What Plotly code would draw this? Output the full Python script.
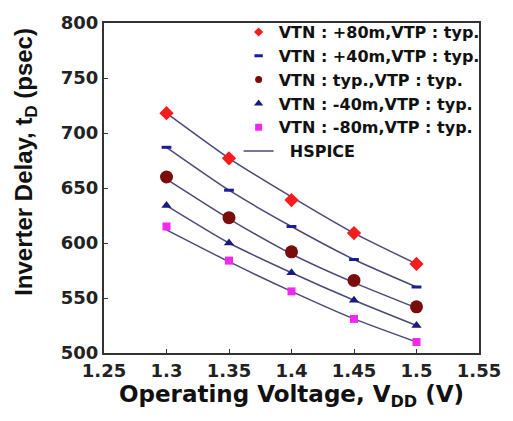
import plotly.graph_objects as go

vdd = [1.3, 1.35, 1.4, 1.45, 1.5]
names = ["VTN : +80m,VTP : typ.", "VTN : +40m,VTP : typ.", "VTN : typ.,VTP : typ.",
         "VTN : -40m,VTP : typ.", "VTN : -80m,VTP : typ."]
meas_p80 = [718, 677, 639, 609, 581]
meas_p40 = [687, 648, 615, 585, 560]
meas_typ = [660, 623, 592, 566, 542]
meas_m40 = [634, 600, 573, 548, 525]
meas_m80 = [615, 584, 556, 531, 510]
sp_p80 = [718, 677, 642, 609, 581]
sp_p40 = [687, 648, 615, 585, 560]
sp_typ = [658, 622, 590, 564, 541]
sp_m40 = [634, 600, 573, 548, 525]
sp_m80 = [612, 583, 556, 531, 510]

meas = [meas_p80, meas_p40, meas_typ, meas_m40, meas_m80]
spice = [sp_p80, sp_p40, sp_typ, sp_m40, sp_m80]
symbols = ["diamond", "line-ew", "circle", "triangle-up", "square"]
colors = ["#f41c1c", "#1c1c9a", "#7a0c0c", "#1a1a80", "#f028f0"]
sizes = [11, 7, 13, 9, 8]
leg_sizes = [7, 6, 7, 8, 7]
line_color = "#4a4a78"

def marker(s, c, sz):
    if s == "line-ew":
        return dict(symbol=s, size=sz, line=dict(width=3, color=c))
    return dict(symbol=s, color=c, size=sz, line=dict(width=0))

fig = go.Figure()
for y in spice:
    fig.add_trace(go.Scatter(x=vdd, y=y, mode="lines", showlegend=False,
                             line=dict(color=line_color, width=1.5, shape="spline", smoothing=0.6)))
for n, y, s, c, sz in zip(names, meas, symbols, colors, sizes):
    fig.add_trace(go.Scatter(x=vdd, y=y, mode="markers", showlegend=False, marker=marker(s, c, sz)))
# legend entries
for n, s, c, sz in zip(names, symbols, colors, leg_sizes):
    fig.add_trace(go.Scatter(x=[None], y=[None], mode="markers", name=n, marker=marker(s, c, sz)))
fig.add_trace(go.Scatter(x=[None], y=[None], mode="lines", name="\u00a0\u00a0HSPICE",
                         line=dict(color=line_color, width=1.5)))

axis_common = dict(showline=True, linecolor="#333333", linewidth=2, mirror=True,
                   ticks="inside", ticklen=4, tickcolor="#333333", showgrid=False, zeroline=False,
                   tickfont=dict(family="DejaVu Sans", size=18, color="#222222", weight="bold"))
fig.update_xaxes(range=[1.25, 1.55], tickvals=[1.25, 1.3, 1.35, 1.4, 1.45, 1.5, 1.55],
                 ticktext=["1.25", "1.3", "1.35", "1.4", "1.45", "1.5", "1.55"],
                 title=dict(text="Operating Voltage, V<sub>DD</sub> (V)",
                            font=dict(family="DejaVu Sans", size=23, color="#111111", weight="bold"),
                            standoff=6),
                 **axis_common)
fig.update_yaxes(range=[500, 800], tickvals=[500, 550, 600, 650, 700, 750, 800], **axis_common)
fig.add_annotation(text="Inverter Delay, t<sub>D</sub> (psec)", textangle=-90,
                   xref="paper", yref="paper", x=-0.21, y=0.58, xanchor="center", yanchor="middle",
                   showarrow=False,
                   font=dict(family="Liberation Sans", size=24, color="#111111", weight="bold"))
fig.update_layout(
    width=513, height=421, margin=dict(l=104, r=33, t=20, b=68),
    paper_bgcolor="white", plot_bgcolor="white",
    showlegend=True,
    legend=dict(x=1.015, xanchor="right", y=1.024, yanchor="top", bgcolor="rgba(0,0,0,0)",
                font=dict(family="DejaVu Sans", size=16, color="#111111", weight="bold"),
                itemwidth=30, tracegroupgap=3),
)
fig.write_html("out.html")
